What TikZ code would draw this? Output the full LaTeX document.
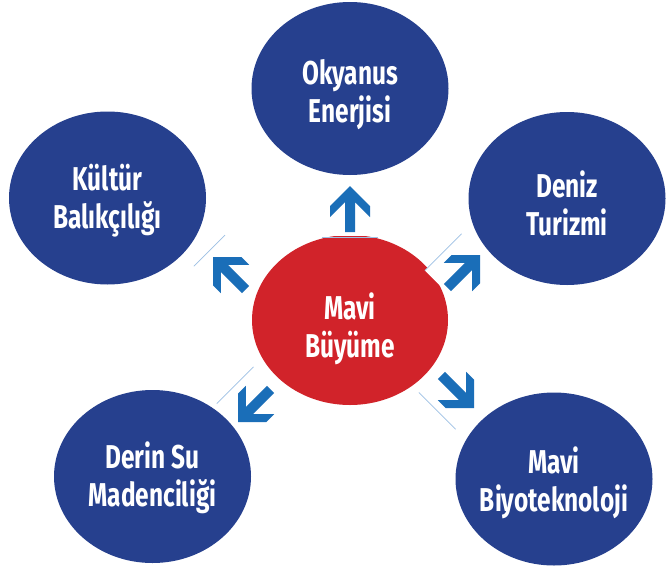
\documentclass[tikz,border=0pt]{standalone}
\usepackage{fontspec}
\setmainfont{Fira Sans}[FakeStretch=0.74]
\usetikzlibrary{shapes.geometric}
\definecolor{darkblue}{HTML}{26408E}
\definecolor{redc}{HTML}{D1232A}
\definecolor{arrowblue}{HTML}{1A6EB8}
\definecolor{edgeblue}{HTML}{9CC0E4}
\tikzset{
  bubble/.style={ellipse, fill=darkblue, draw=none, inner sep=0pt, minimum width=197pt, minimum height=173pt},
  centre/.style={ellipse, fill=redc, draw=none, inner sep=0pt, minimum width=196pt, minimum height=170pt},
  label/.style={text=white, font=\bfseries\fontsize{33}{38}\selectfont, align=center, inner sep=0pt},
  edgeline/.style={draw=edgeblue, line width=0.8pt}
}
\newcommand{\myarrowshape}{%
  \fill[white] (-28,-8) rectangle (28,50);
  \fill[arrowblue] (0,0) -- (20,20) -- (20,31) -- (5,16) -- (5,46) -- (-5,46) -- (-5,16) -- (-20,31) -- (-20,20) -- cycle;
}
\begin{document}
\begin{tikzpicture}[x=1pt,y=-1pt]
\useasboundingbox[fill=white] (0,0) rectangle (672,568);
% centre
\node[centre] (mb) at (350,320) {};
% arrows
\begin{scope}[shift={(350,186)}]
  \myarrowshape
  \draw[edgeline] (-28,51) -- (28,51);
\end{scope}
\begin{scope}[shift={(213,257)}, rotate=45]
  \myarrowshape
  \draw[edgeline] (-20,-7) -- (24,-7);
\end{scope}
\begin{scope}[shift={(480,255)}, rotate=-45]
  \myarrowshape
  \draw[edgeline] (-28,-2) -- (-28,50);
\end{scope}
\begin{scope}[shift={(238,422)}, rotate=135]
  \myarrowshape
  \draw[edgeline] (28,-2) -- (28,50);
\end{scope}
\begin{scope}[shift={(474,408)}, rotate=-135]
  \myarrowshape
  \draw[edgeline] (28,-2) -- (28,50);
\end{scope}
% outer bubbles
\node[bubble] (oe) at (350,88.5) {};
\node[bubble] (kb) at (107.5,198) {};
\node[bubble] (dt) at (567,198.5) {};
\node[bubble] (ds) at (152.5,476.5) {};
\node[bubble] (bt) at (554,479) {};
% texts
\node[label] (toe) at (350,95) {Okyanus\\Enerjisi};
\node[label] (tkb) at (107.5,201) {Kültür\\Balıkçılığı};
\node[label] (tdt) at (567,203) {Deniz\\Turizmi};
\node[label] (tds) at (152.5,478) {Derin Su\\Madenciliği};
\node[label] (tbt) at (554,483) {Mavi\\Biyoteknoloji};
\node[label] (tmb) at (350,329) {Mavi\\Büyüme};
\end{tikzpicture}
\end{document}
